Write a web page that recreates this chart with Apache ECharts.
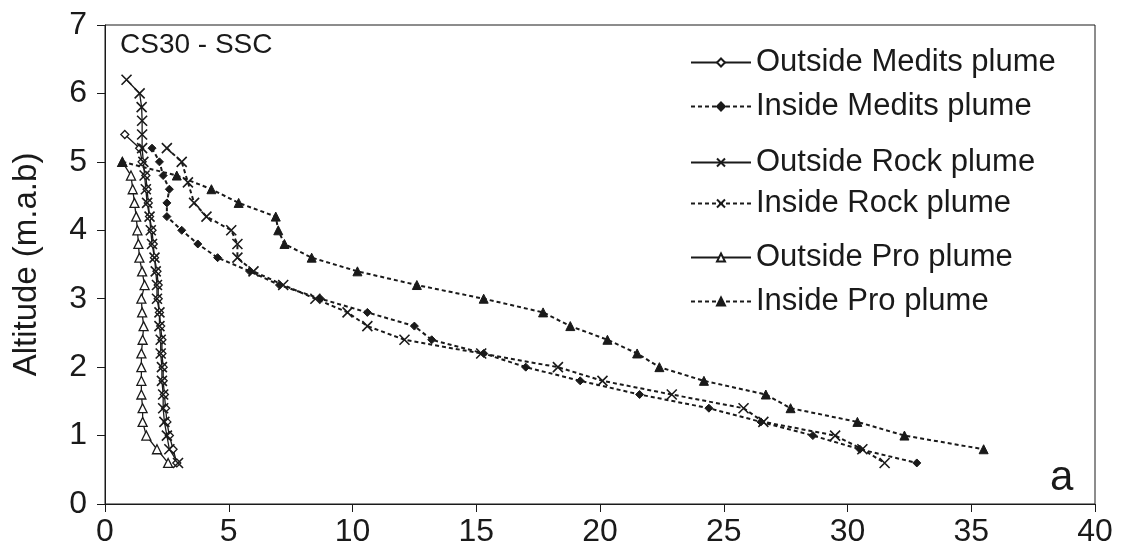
<!DOCTYPE html>
<html><head><meta charset="utf-8">
<script src="https://cdn.jsdelivr.net/npm/echarts@6/dist/echarts.min.js"></script>
<style>html,body{margin:0;padding:0;background:#fff}#c{width:1121px;height:553px}</style>
</head><body><div id="c"></div>
<script>
// ---- data (SSC on x, altitude m.a.b on y) ----
const xTicks = [0, 5, 10, 15, 20, 25, 30, 35, 40];
const yTicks = [0, 1, 2, 3, 4, 5, 6, 7];
const seriesNames = ['Outside Medits plume','Inside Medits plume','Outside Rock plume','Inside Rock plume','Outside Pro plume','Inside Pro plume'];

const outMeditsX = [0.8,1.4,1.5,1.65,1.7,1.75,1.8,1.9,1.95,2.0,2.1,2.15,2.15,2.2,2.25,2.3,2.3,2.35,2.35,2.4,2.45,2.5,2.6,2.75,2.9];
const outMeditsY = [5.4,5.2,5.0,4.8,4.6,4.4,4.2,4.0,3.8,3.6,3.4,3.2,3.0,2.8,2.6,2.4,2.2,2.0,1.8,1.6,1.4,1.2,1.0,0.8,0.6];

const inMeditsX = [1.9,2.2,2.35,2.6,2.5,2.5,3.1,3.75,4.55,5.85,7.05,8.7,10.6,12.5,13.2,15.3,17.0,19.2,21.6,24.4,26.5,28.6,30.5,32.8];
const inMeditsY = [5.2,5.0,4.8,4.6,4.4,4.2,4.0,3.8,3.6,3.4,3.2,3.0,2.8,2.6,2.4,2.2,2.0,1.8,1.6,1.4,1.2,1.0,0.8,0.6];

const outRockX = [0.87,1.4,1.48,1.5,1.5,1.5,1.55,1.6,1.65,1.7,1.8,1.85,1.9,2.0,2.05,2.1,2.1,2.2,2.2,2.25,2.25,2.3,2.3,2.35,2.35,2.4,2.5,2.6,2.95];
const outRockY = [6.2,6.0,5.8,5.6,5.4,5.2,5.0,4.8,4.6,4.4,4.2,4.0,3.8,3.6,3.4,3.2,3.0,2.8,2.6,2.4,2.2,2.0,1.8,1.6,1.4,1.2,1.0,0.8,0.6];

const inRockX = [2.5,3.1,3.35,3.6,4.1,5.1,5.35,5.35,6.0,7.2,8.5,9.8,10.6,12.1,15.2,18.3,20.1,22.9,25.8,26.6,29.5,30.6,31.5];
const inRockY = [5.2,5.0,4.7,4.4,4.2,4.0,3.8,3.6,3.4,3.2,3.0,2.8,2.6,2.4,2.2,2.0,1.8,1.6,1.4,1.2,1.0,0.8,0.6];

const outProX = [0.7,1.05,1.12,1.19,1.26,1.31,1.35,1.39,1.5,1.6,1.47,1.5,1.56,1.52,1.47,1.47,1.47,1.47,1.52,1.52,1.67,2.1,2.55];
const outProY = [5.0,4.8,4.6,4.4,4.2,4.0,3.8,3.6,3.4,3.2,3.0,2.8,2.6,2.4,2.2,2.0,1.8,1.6,1.4,1.2,1.0,0.8,0.6];

const inProX = [0.7,2.9,4.3,5.4,6.9,7.0,7.25,8.35,10.2,12.6,15.3,17.7,18.8,20.3,21.5,22.4,24.2,26.7,27.7,30.4,32.3,35.5];
const inProY = [5.0,4.8,4.6,4.4,4.2,4.0,3.8,3.6,3.4,3.2,3.0,2.8,2.6,2.4,2.2,2.0,1.8,1.6,1.4,1.2,1.0,0.8];

// ---- rendering ----
const FONT = '"Liberation Sans", Arial, sans-serif';
const ink = '#1a1a1a';
function pairs(xs, ys) { return xs.map((x, i) => [x, ys[i]]); }
const crossPath = 'path://M0,0L10,10M10,0L0,10';
const solid = { color: ink, width: 1.3, type: 'solid' };
const dotted = { color: ink, width: 2, type: [4, 3] };

function mk(name, xs, ys, symbol, size, filled, line) {
  const isCross = symbol === crossPath;
  return {
    name: name, type: 'line', data: pairs(xs, ys),
    symbol: symbol, symbolSize: size, symbolKeepAspect: true,
    showSymbol: true, showAllSymbol: true,
    lineStyle: line,
    itemStyle: isCross ? { color: ink, borderColor: ink, borderWidth: 1.6 }
      : (filled ? { color: ink, borderColor: ink, borderWidth: 1 }
                : { color: '#fff', borderColor: ink, borderWidth: 1.3 }),
    emphasis: { disabled: true },
    animation: false
  };
}

const chart = echarts.init(document.getElementById('c'), null, { renderer: 'canvas' });
const legendBase = {
  orient: 'vertical', left: 685, itemWidth: 60, itemHeight: 10, itemGap: 13, padding: 5,
  selectedMode: false, inactiveColor: ink,
  textStyle: { fontFamily: FONT, fontSize: 31, color: ink, lineHeight: 30 }
};
chart.setOption({
  backgroundColor: '#fff',
  animation: false,
  grid: { left: 105, right: 26, top: 25, bottom: 49, show: true, borderColor: ink, borderWidth: 1, backgroundColor: 'transparent' },
  legend: [
    Object.assign({}, legendBase, { top: 42, data: [seriesNames[0], seriesNames[1]] }),
    Object.assign({}, legendBase, { top: 142, itemGap: 10, data: [seriesNames[2], seriesNames[3]] }),
    Object.assign({}, legendBase, { top: 237, data: [seriesNames[4], seriesNames[5]] })
  ],
  xAxis: {
    type: 'value', min: xTicks[0], max: xTicks[xTicks.length - 1], interval: xTicks[1] - xTicks[0],
    axisLine: { show: true, lineStyle: { color: ink, width: 1 } },
    axisTick: { show: true, inside: false, length: 8, lineStyle: { color: ink } },
    axisLabel: { fontFamily: FONT, fontSize: 32, color: ink, margin: 12 },
    splitLine: { show: false }
  },
  yAxis: {
    type: 'value', min: yTicks[0], max: yTicks[yTicks.length - 1], interval: yTicks[1] - yTicks[0],
    name: 'Altitude (m.a.b)', nameLocation: 'middle', nameGap: 62,
    nameTextStyle: { fontFamily: FONT, fontSize: 33, color: ink },
    axisLine: { show: true, lineStyle: { color: ink, width: 1 } },
    axisTick: { show: true, inside: false, length: 8, lineStyle: { color: ink } },
    axisLabel: { fontFamily: FONT, fontSize: 32, color: ink, margin: 18 },
    splitLine: { show: false }
  },
  graphic: [
    { type: 'text', left: 120, top: 31, style: { text: 'CS30 - SSC', font: '28px "Liberation Sans", Arial, sans-serif', fill: ink } },
    { type: 'text', left: 1050, top: 457, style: { text: 'a', font: '42px "Liberation Sans", Arial, sans-serif', fill: ink } }
  ],
  series: [
    mk(seriesNames[0], outMeditsX, outMeditsY, 'diamond', 8, false, solid),
    mk(seriesNames[1], inMeditsX, inMeditsY, 'diamond', 8, true, dotted),
    mk(seriesNames[2], outRockX, outRockY, crossPath, 10, true, solid),
    mk(seriesNames[3], inRockX, inRockY, crossPath, 10, true, dotted),
    mk(seriesNames[4], outProX, outProY, 'triangle', 9, false, solid),
    mk(seriesNames[5], inProX, inProY, 'triangle', 9, true, dotted)
  ]
});
</script></body></html>
